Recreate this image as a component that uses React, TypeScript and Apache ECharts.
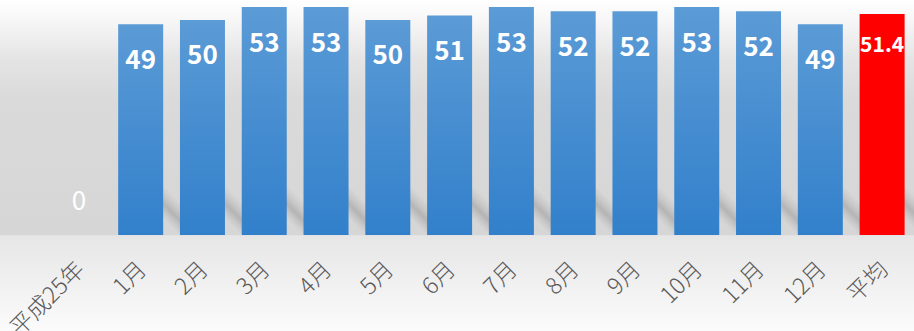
import React, { useEffect, useRef } from "react";
import * as echarts from "echarts";

const categories = ["平成25年", "1月", "2月", "3月", "4月", "5月", "6月", "7月", "8月", "9月", "10月", "11月", "12月", "平均"];
const values = [0, 49, 50, 53, 53, 50, 51, 53, 52, 52, 53, 52, 49, 51.4];
const averageIndex = 13;

const FONT = "'Noto Sans CJK JP', 'Noto Sans', sans-serif";
const BAR_W = 45;

export default function App() {
  const ref = useRef<HTMLDivElement>(null);
  useEffect(() => {
    if (!ref.current) return;
    const chart = echarts.init(ref.current, null, { renderer: "svg" });

    const barData = values.map((v, i) => {
      if (i === 0) {
        return {
          value: v,
          label: { position: "top", distance: 24, fontWeight: "normal" },
        };
      }
      if (i === averageIndex) {
        return {
          value: v,
          itemStyle: { color: "#ff0000" },
          label: { fontSize: 21, fontWeight: "bold", distance: 19 },
        };
      }
      return v;
    });

    const shadowData = values
      .map((v, i) => [i, v])
      .filter((d) => d[1] > 0);

    const option = {
      animation: false,
      backgroundColor: new echarts.graphic.LinearGradient(0, 0, 0, 1, [
        { offset: 0, color: "#ffffff" },
        { offset: 0.06, color: "#f7f7f7" },
        { offset: 0.18, color: "#e4e4e4" },
        { offset: 0.3, color: "#dadada" },
        { offset: 0.71, color: "#d6d6d6" },
        { offset: 0.712, color: "#e6e6e6" },
        { offset: 1, color: "#fbfbfb" },
      ]),
      grid: {
        left: 48,
        right: 1,
        top: 7,
        bottom: 96,
        containLabel: false,
        outerBoundsMode: "none",
      },
      xAxis: {
        type: "category",
        data: categories,
        axisLine: { show: false },
        axisTick: { show: false },
        axisLabel: {
          interval: 0,
          rotate: 45,
          margin: 29,
          color: "#595959",
          fontSize: 23,
          fontWeight: 300,
          fontFamily: FONT,
          hideOverlap: false,
        },
      },
      yAxis: {
        type: "value",
        min: 0,
        max: 53,
        show: false,
        splitLine: { show: false },
      },
      series: [
        {
          type: "custom",
          z: 1,
          silent: true,
          data: shadowData,
          encode: { x: 0, y: 1 },
          renderItem: (params: any, api: any) => {
            const idx = api.value(0);
            const p = api.coord([idx, 0]);
            const bx1 = p[0] + BAR_W / 2;
            const yb = p[1];
            const ax = bx1 - 18, ay = yb - 52;
            const bx = bx1 + 26, by = yb - 6;
            const h = 12;
            const nx = 0.7071 * h, ny = -0.7071 * h;
            const cx = (ax + bx) / 2, cy = (ay + by) / 2;
            return {
              type: "polygon",
              shape: {
                points: [
                  [ax + nx, ay + ny],
                  [bx + nx, by + ny],
                  [bx - nx, by - ny],
                  [ax - nx, ay - ny],
                ],
              },
              style: {
                fill: new echarts.graphic.LinearGradient(
                  cx + nx, cy + ny, cx - nx, cy - ny,
                  [
                    { offset: 0, color: "rgba(0,0,0,0)" },
                    { offset: 0.3, color: "rgba(0,0,0,0.07)" },
                    { offset: 0.55, color: "rgba(0,0,0,0.16)" },
                    { offset: 0.8, color: "rgba(0,0,0,0.06)" },
                    { offset: 1, color: "rgba(0,0,0,0)" },
                  ],
                  true
                ),
              },
            };
          },
        },
        {
          type: "bar",
          z: 2,
          barWidth: BAR_W,
          data: barData,
          itemStyle: {
            color: new echarts.graphic.LinearGradient(0, 0, 0, 1, [
              { offset: 0, color: "#5b9bd6" },
              { offset: 1, color: "#3280cb" },
            ]),
          },
          label: {
            show: true,
            position: "insideTop",
            distance: 20,
            color: "#ffffff",
            fontSize: 26,
            fontWeight: "bold",
            fontFamily: FONT,
            formatter: (p: any) => String(p.value),
          },
        },
      ],
    };

    chart.setOption(option as any);
    return () => chart.dispose();
  }, []);

  return (
    <div
      ref={ref}
      style={{ position: "fixed", left: 0, top: 0, width: 914, height: 331 }}
    />
  );
}
